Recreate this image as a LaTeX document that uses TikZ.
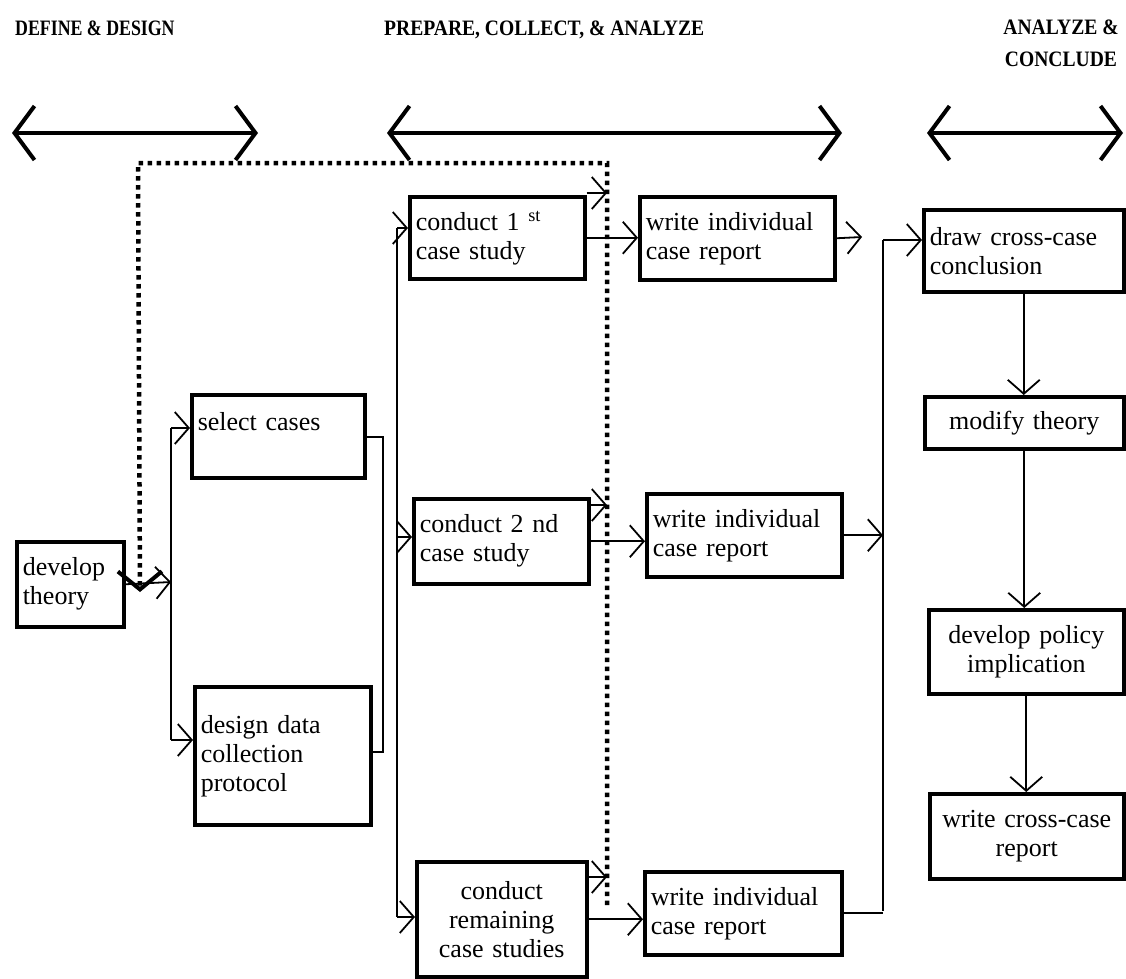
\documentclass[tikz,border=0pt]{standalone}
\usepackage{fontspec}
\setmainfont{Liberation Serif}
\newfontfamily\headfont{Liberation Serif}[FakeStretch=0.89]
\newfontfamily\headnarrow{Liberation Serif}[FakeStretch=0.81]
\usetikzlibrary{arrows.meta}

\begin{document}
\begin{tikzpicture}[x=1pt,y=-1pt,
  box/.style={draw, line width=3.5pt, inner sep=5pt, anchor=north west,
    font=\fontsize{26}{29}\selectfont, align=left},
  conn/.style={line width=1.8pt},
  tip/.style={-{Straight Barb[length=14pt,width=32pt]}},
  head/.style={font=\headfont\bfseries\fontsize{22}{32}\selectfont, anchor=base west, inner sep=0pt},
  span/.style={line width=4pt,
    {Straight Barb[length=20pt,width=54pt]}-{Straight Barb[length=20pt,width=54pt]}},
  loop/.style={line width=4.5pt, dash pattern=on 4.5pt off 4.5pt,
    -{Straight Barb[length=18pt,width=44pt,line width=4pt]}}
]
\useasboundingbox (0,0) rectangle (1126,978);

% phase headings
\node[head, font=\headnarrow\bfseries\fontsize{22}{32}\selectfont] (h1) at (15,35) {DEFINE \& DESIGN};
\node[head] (h2) at (384,35) {PREPARE, COLLECT, \& ANALYZE};
\node[head, anchor=north, align=center] (h3) at (1061,20) {ANALYZE \&\\CONCLUDE};

% phase spans
\coordinate (a1l) at (12,133);  \coordinate (a1r) at (258,133);
\coordinate (a2l) at (387,133); \coordinate (a2r) at (842,133);
\coordinate (a3l) at (927,133); \coordinate (a3r) at (1123,133);
\draw[span] (a1l) -- (a1r);
\draw[span] (a2l) -- (a2r);
\draw[span] (a3l) -- (a3r);

% define & design
\node[box, minimum width=107pt, minimum height=85pt, text width=95pt] (dt) at (15,540) {develop\\theory};
\node[box, minimum width=173pt, minimum height=83pt, text width=161pt] (sc) at (190,393) {select cases\\\mbox{}};
\node[box, minimum width=176pt, minimum height=138pt, text width=164pt] (dd) at (193,685) {design data\\collection\\protocol};

% prepare, collect & analyze
\node[box, minimum width=175pt, minimum height=82pt, text width=163pt] (c1) at (408,195) {conduct 1 \textsuperscript{st}\\case study};
\node[box, minimum width=175pt, minimum height=85pt, text width=163pt] (c2) at (412,497) {conduct 2 nd\\case study};
\node[box, minimum width=170pt, minimum height=115pt, text width=158pt, align=center] (c3) at (415,860) {conduct\\remaining\\case studies};
\node[box, minimum width=195pt, minimum height=83pt, text width=183pt] (w1) at (638,195) {write individual\\case report};
\node[box, minimum width=195pt, minimum height=83pt, text width=183pt] (w2) at (645,492) {write individual\\case report};
\node[box, minimum width=197pt, minimum height=83pt, text width=185pt] (w3) at (643,870) {write individual\\case report};

% analyze & conclude
\node[box, minimum width=200pt, minimum height=82pt, text width=188pt] (dc) at (922,208) {draw cross-case\\conclusion};
\node[box, minimum width=199pt, minimum height=52pt, text width=187pt, align=center] (mt) at (923,395) {modify theory};
\node[box, minimum width=195pt, minimum height=84pt, text width=183pt, align=center] (dp) at (927,608) {develop policy\\implication};
\node[box, minimum width=194pt, minimum height=85pt, text width=182pt, align=center] (wc) at (928,792) {write cross-case\\report};

% develop theory to select cases / design protocol
\coordinate (jt) at (171,582);
\coordinate (jtop) at (171,428);
\coordinate (jbot) at (171,740);
\draw[conn,tip] (dt.east) -- (jt);
\draw[conn] (jtop) -- (jbot);
\draw[conn,tip] (jtop) -- (jtop -| sc.west);
\draw[conn,tip] (jbot) -- (jbot -| dd.west);

% select cases and protocol joined on the right
\coordinate (m1) at (383,437);
\coordinate (m2) at (383,752);
\draw[conn] (m1 -| sc.east) -- (m1) -- (m2) -- (m2 -| dd.east);

% feed into the case studies
\coordinate (b1) at (397,228);
\coordinate (b2) at (397,537);
\coordinate (b3) at (397,917);
\draw[conn] (b1) -- (b3);
\draw[conn,tip] (b1) -- (b1 -| c1.west);
\draw[conn,tip] (b2) -- (b2 -| c2.west);
\draw[conn,tip] (b3) -- (b3 -| c3.west);

% case studies to reports
\draw[conn,tip] (c1.east) -- (c1.east -| w1.west);
\draw[conn,tip] (c2.east) -- (c2.east -| w2.west);
\draw[conn,tip] (c3.east) -- (c3.east -| w3.west);

% feedback loop (dotted)
\coordinate (lp0) at (607,905);
\coordinate (lp1) at (607,163);
\coordinate (lp2) at (138,163);
\coordinate (lp3) at (140,592);
\draw[loop] (lp0) -- (lp1) -- (lp2) -- (lp3);
\coordinate (s1) at ([yshift=2pt]c1.north east);
\coordinate (s2) at ([yshift=-8pt]c2.north east);
\coordinate (s3) at ([yshift=-17pt]c3.north east);
\draw[conn,tip] (s1) -- (s1 -| lp1);
\draw[conn,tip] (s2) -- (s2 -| lp1);
\draw[conn,tip] (s3) -- (s3 -| lp1);

% reports gathered into cross-case conclusion
\coordinate (r1) at (883,240);
\coordinate (r2) at (883,534);
\coordinate (r3) at (883,911);
\coordinate (r0) at (862,237);
\draw[conn] (r1) -- (r3);
\draw[conn,tip] (w1.east) -- (r0);
\draw[conn,tip] (w2.east) -- (w2.east -| r2);
\draw[conn] (w3.east) -- (w3.east -| r3);
\draw[conn,tip] (r1) -- (r1 -| dc.west);

% cross-case sequence
\draw[conn,tip] (dc.south) -- (dc.south |- mt.north);
\draw[conn,tip] (mt.south) -- (mt.south |- dp.north);
\draw[conn,tip] (dp.south) -- (dp.south |- wc.north);
\end{tikzpicture}
\end{document}
